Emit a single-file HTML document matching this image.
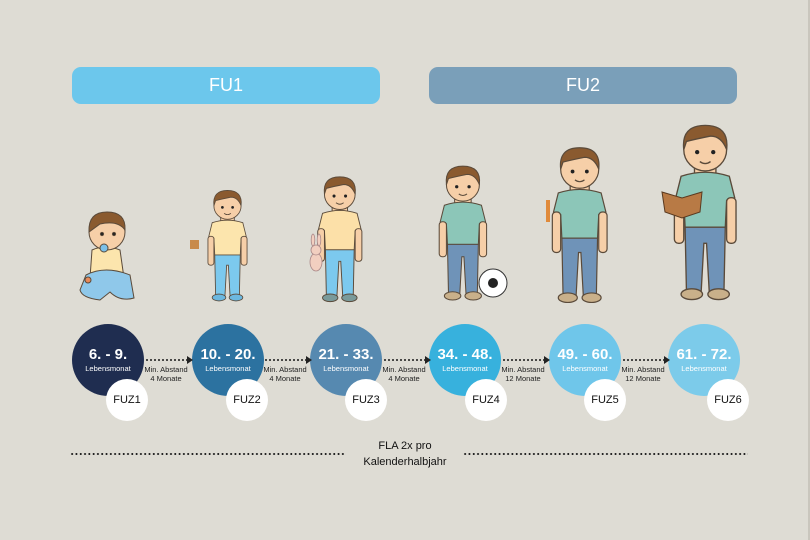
<!DOCTYPE html>
<html><head><meta charset="utf-8"><style>
html,body{margin:0;padding:0;}
body{width:810px;height:540px;background:#dedcd4;position:relative;overflow:hidden;font-family:"Liberation Sans",sans-serif;}
.bar{position:absolute;top:67px;height:37px;border-radius:9px;color:#fff;font-size:18px;line-height:37px;text-align:center;}
.c{position:absolute;width:72px;height:72px;border-radius:50%;color:#fff;text-align:center;}
.c b{display:block;font-size:15px;margin-top:22px;font-weight:bold;letter-spacing:0}
.c i{display:block;font-style:normal;font-size:7.5px;margin-top:1px}
.f{position:absolute;width:42px;height:42px;border-radius:50%;background:#fff;color:#111;font-size:11px;line-height:42px;text-align:center;}
.a{position:absolute;top:359px;height:2px;background:radial-gradient(circle,#222 0.9px,transparent 1.1px) 0 0/4px 2px repeat-x}
.a:after{content:"";position:absolute;right:-4px;top:-3px;border-left:6px solid #222;border-top:4px solid transparent;border-bottom:4px solid transparent}
.d{position:absolute;top:453px;height:2px;background:radial-gradient(circle,#222 0.9px,transparent 1.1px) 0 0/4.3px 2px repeat-x}
.t{position:absolute;top:365px;font-size:7.5px;line-height:9px;text-align:center;color:#222;width:60px}
</style></head><body>
<div style="position:absolute;right:0;top:0;width:2px;height:540px;background:#c9c6bd"></div>
<div class="bar" style="left:72px;width:308px;background:#6cc7ec">FU1</div>
<div class="bar" style="left:429px;width:308px;background:#7a9fb9">FU2</div>

<svg width="810" height="540" style="position:absolute;left:0;top:0" xmlns="http://www.w3.org/2000/svg">
<defs>
<g id="kid" stroke="#5a4a3a" stroke-width="1">
 <rect x="22" y="36" width="16" height="8" fill="#f6cfa8"/>
 <path d="M12 42 Q30 36 48 42 L52 58 L46 60 L45 80 L15 80 L14 60 L8 58 Z" fill="var(--s)"/>
 <rect x="7" y="58" width="7" height="34" rx="3" fill="#f6cfa8"/>
 <rect x="46" y="58" width="7" height="34" rx="3" fill="#f6cfa8"/>
 <path d="M15 80 L45 80 L44 128 L33 128 L31 92 L29 92 L27 128 L16 128 Z" fill="var(--p)"/>
 <ellipse cx="20" cy="130" rx="8" ry="4" fill="var(--h)"/>
 <ellipse cx="40" cy="130" rx="8" ry="4" fill="var(--h)"/>
 <circle cx="30" cy="22" r="16" fill="#f6cfa8"/>
 <path d="M14 22 Q12 4 30 4 Q48 4 46 22 Q42 12 34 12 Q24 14 16 16 Z" fill="#8a5a2f"/>
 <circle cx="24" cy="24" r="1.6" fill="#222" stroke="none"/>
 <circle cx="36" cy="24" r="1.6" fill="#222" stroke="none"/>
 <path d="M26 31 Q30 34 34 31" fill="none"/>
</g>
</defs>
<g stroke="#5a4a3a" stroke-width="1">
 <path d="M92 250 Q105 244 120 250 L124 278 L90 278 Z" fill="#fce5ad"/>
 <path d="M86 275 Q105 265 130 275 L134 298 Q120 302 110 292 L100 300 Q82 298 80 290 Z" fill="#8fc8ea"/>
 <circle cx="107" cy="232" r="18" fill="#f6cfa8"/>
 <path d="M89 232 Q88 212 107 212 Q126 212 125 230 Q118 220 100 224 Z" fill="#8a5a2f"/>
 <circle cx="102" cy="234" r="1.6" fill="#222"/><circle cx="114" cy="234" r="1.6" fill="#222"/>
 <circle cx="104" cy="248" r="4" fill="#7cc0e8"/>
 <circle cx="88" cy="280" r="3" fill="#e88a5a"/>
</g>
<use href="#kid" transform="translate(202,187) scale(0.85)" style="--s:#fce5ad;--p:#7cc9ee;--h:#6cb8e0"/>
<rect x="190" y="240" width="9" height="9" fill="#c88a4a"/>
<use href="#kid" transform="translate(311,173) scale(0.96)" style="--s:#fce0a8;--p:#7cc9ee;--h:#7a9a9a"/>
<g stroke="#a88" stroke-width="0.8" fill="#f2cfc0"><ellipse cx="316" cy="262" rx="6" ry="9"/><circle cx="316" cy="250" r="5"/><ellipse cx="313" cy="240" rx="1.8" ry="6"/><ellipse cx="319" cy="240" rx="1.8" ry="6"/></g>
<use href="#kid" transform="translate(432,162) scale(1.03)" style="--s:#8cc6b8;--p:#6f93b8;--h:#c9b08a"/>
<circle cx="493" cy="283" r="14" fill="#fff" stroke="#333"/><circle cx="493" cy="283" r="5" fill="#222"/>
<use href="#kid" transform="translate(544,143) scale(1.19)" style="--s:#8cc6b8;--p:#6f93b8;--h:#c9b08a"/>
<rect x="546" y="200" width="4" height="22" fill="#e08a3a"/>
<use href="#kid" transform="translate(665,120) scale(1.34)" style="--s:#8cc6b8;--p:#6f93b8;--h:#c9b08a"/>
<path d="M662 192 L682 198 L702 192 L700 212 L682 218 L665 212 Z" fill="#b87a45" stroke="#5a3a20"/>
</svg>

<div class="c" style="left:72px;top:324px;background:#1f2d50"><b>6. - 9.</b><i>Lebensmonat</i></div>
<div class="c" style="left:192px;top:324px;background:#2c72a0"><b>10. - 20.</b><i>Lebensmonat</i></div>
<div class="c" style="left:310px;top:324px;background:#5689b0"><b>21. - 33.</b><i>Lebensmonat</i></div>
<div class="c" style="left:429px;top:324px;background:#37b1dd"><b>34. - 48.</b><i>Lebensmonat</i></div>
<div class="c" style="left:549px;top:324px;background:#6fc6ea"><b>49. - 60.</b><i>Lebensmonat</i></div>
<div class="c" style="left:668px;top:324px;background:#7ccbea"><b>61. - 72.</b><i>Lebensmonat</i></div>

<div class="f" style="left:106px;top:379px">FUZ1</div>
<div class="f" style="left:226px;top:379px">FUZ2</div>
<div class="f" style="left:345px;top:379px">FUZ3</div>
<div class="f" style="left:465px;top:379px">FUZ4</div>
<div class="f" style="left:584px;top:379px">FUZ5</div>
<div class="f" style="left:707px;top:379px">FUZ6</div>

<div class="a" style="left:145px;width:44px"></div>
<div class="a" style="left:264px;width:44px"></div>
<div class="a" style="left:383px;width:44px"></div>
<div class="a" style="left:502px;width:44px"></div>
<div class="a" style="left:622px;width:44px"></div>
<div class="t" style="left:136px">Min. Abstand<br>4 Monate</div>
<div class="t" style="left:255px">Min. Abstand<br>4 Monate</div>
<div class="t" style="left:374px">Min. Abstand<br>4 Monate</div>
<div class="t" style="left:493px">Min. Abstand<br>12 Monate</div>
<div class="t" style="left:613px">Min. Abstand<br>12 Monate</div>

<div class="d" style="left:70px;width:276px"></div>
<div class="d" style="left:463px;width:285px"></div>
<div style="position:absolute;left:345px;width:120px;top:438px;text-align:center;font-size:11px;line-height:16px;color:#111">FLA 2x pro<br>Kalenderhalbjahr</div>
</body></html>
